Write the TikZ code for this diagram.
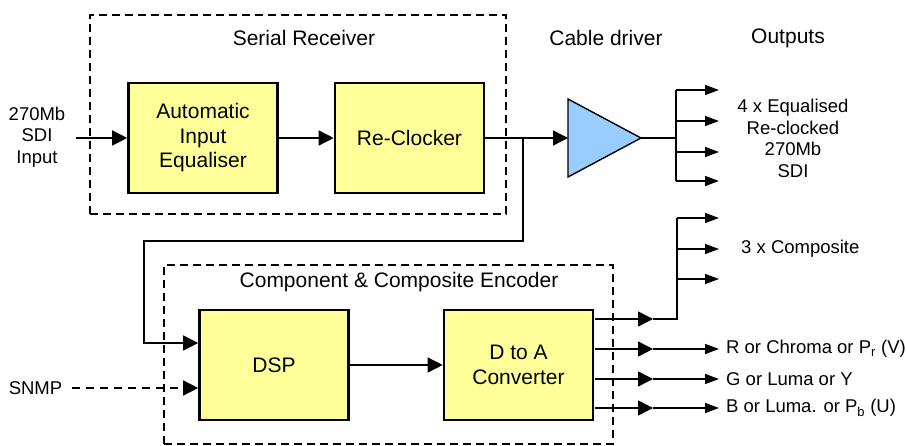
\documentclass[tikz,border=0pt]{standalone}
\usepackage{fontspec}
\setmainfont{Liberation Sans}
\usetikzlibrary{arrows.meta}
\definecolor{boxyellow}{HTML}{FFFF99}
\definecolor{drvblue}{HTML}{99CCFF}
\newcommand\fntA{\fontsize{21}{24.5}\selectfont}
\newcommand\fntB{\fontsize{18.5}{21.5}\selectfont}
\begin{document}
\begin{tikzpicture}[x=1pt,y=-1pt,
  blk/.style={draw, line width=2.6pt, fill=boxyellow, minimum width=149pt, minimum height=110pt, align=center, font=\fntA, inner sep=0pt},
  dashbox/.style={draw, dash pattern=on 8pt off 5pt, line width=1.3pt, inner sep=0pt},
  ttl/.style={font=\fntA, inner sep=0pt},
  lbl/.style={font=\fntB, align=center, inner sep=0pt},
  wire/.style={line width=1.4pt},
  arr/.style={wire, -{Triangle[length=15pt,width=15pt]}},
  sarr/.style={wire, -{Triangle[length=14pt,width=10pt]}}]
\useasboundingbox (0,0) rectangle (906,446);
\fill[white] (0,0) rectangle (906,446);

% dashed groups
\node[dashbox, minimum width=416pt, minimum height=199pt] (srbox) at (298,114.5) {};
\node[dashbox, minimum width=449pt, minimum height=179pt] (ccbox) at (388.5,354.5) {};

% titles
\node[ttl] (srt) at (304,38) {Serial Receiver};
\node[ttl] (cdt) at (606,38) {Cable driver};
\node[ttl] (outt) at (788,38) {Outputs};
\node[ttl] (cct) at (399,282) {Component \& Composite Encoder};

% blocks
\node[blk] (aie) at (203,138) {Automatic\\Input\\Equaliser};
\node[blk] (rck) at (409.5,138) {Re-Clocker};
\node[blk] (dsp) at (274,365) {DSP};
\node[blk] (dac) at (518.5,365) {D to A\\Converter};

% input
\node[lbl] (inl) at (37,137) {270Mb\\SDI\\Input};
\coordinate (in) at (76,138);
\draw[arr] (in) -- (aie.west);
\draw[arr] (aie) -- (rck);

% cable driver
\coordinate (drvin) at (568,138);
\coordinate (drvout) at (641,138);
\draw[fill=drvblue, line width=1.4pt] (568,99) -- (drvout) -- (568,177) -- cycle;
\draw[arr] (rck.east) -- (drvin);

% SDI outputs
\coordinate (sdib) at (676,138);
\coordinate (s1) at (676,90);
\coordinate (s2) at (676,121);
\coordinate (s3) at (676,152);
\coordinate (s4) at (676,181);
\draw[wire] (drvout) -- (sdib);
\draw[wire] (s1) -- (s4);
\foreach \n in {1,2,3,4} { \draw[sarr] (s\n) -- ++(43,0); }
\node[lbl] (sdil) at (793,138.5) {4 x Equalised\\Re-clocked\\270Mb\\SDI};

% feedback to DSP
\coordinate (fb) at (523,138);
\coordinate (fb1) at (523,241);
\coordinate (fb2) at (144,241);
\coordinate (fb3) at (144,343);
\draw[arr] (fb) -- (fb1) -- (fb2) -- (fb3) -- (fb3 -| dsp.west);

% SNMP
\node[lbl] (snmp) at (35.5,388) {SNMP};
\coordinate (sn) at (72,388);
\draw[arr, dash pattern=on 8pt off 6pt] (sn) -- (sn -| dsp.west);

\draw[arr] (dsp) -- (dac);

% DAC outputs
\coordinate (c0) at (595,319);
\coordinate (cm) at (653,319);
\coordinate (cb) at (677,319);
\coordinate (k1) at (677,218);
\coordinate (k2) at (677,249);
\coordinate (k3) at (677,279);
\draw[arr] (c0) -- (cm);
\draw[wire] (cm) -- (cb) -- (k1);
\foreach \n in {1,2,3} { \draw[sarr] (k\n) -- ++(42,0); }
\node[lbl, anchor=west] (compl) at (741,249) {3 x Composite};

\coordinate (r0) at (595,349);
\coordinate (rm) at (653,349);
\coordinate (re) at (719,349);
\coordinate (g0) at (595,379);
\coordinate (gm) at (653,379);
\coordinate (ge) at (719,379);
\coordinate (b0) at (595,408);
\coordinate (bm) at (653,408);
\coordinate (be) at (719,408);
\draw[arr] (r0) -- (rm); \draw[sarr] (rm) -- (re);
\draw[arr] (g0) -- (gm); \draw[sarr] (gm) -- (ge);
\draw[arr] (b0) -- (bm); \draw[sarr] (bm) -- (be);
\node[lbl, anchor=west] (rl) at (726,349) {R or Chroma or P\textsubscript{r} (V)};
\node[lbl, anchor=west] (gl) at (726,379) {G or Luma or Y};
\node[lbl, anchor=west] (bl) at (726,408) {B or Luma. or P\textsubscript{b} (U)};
\end{tikzpicture}
\end{document}
